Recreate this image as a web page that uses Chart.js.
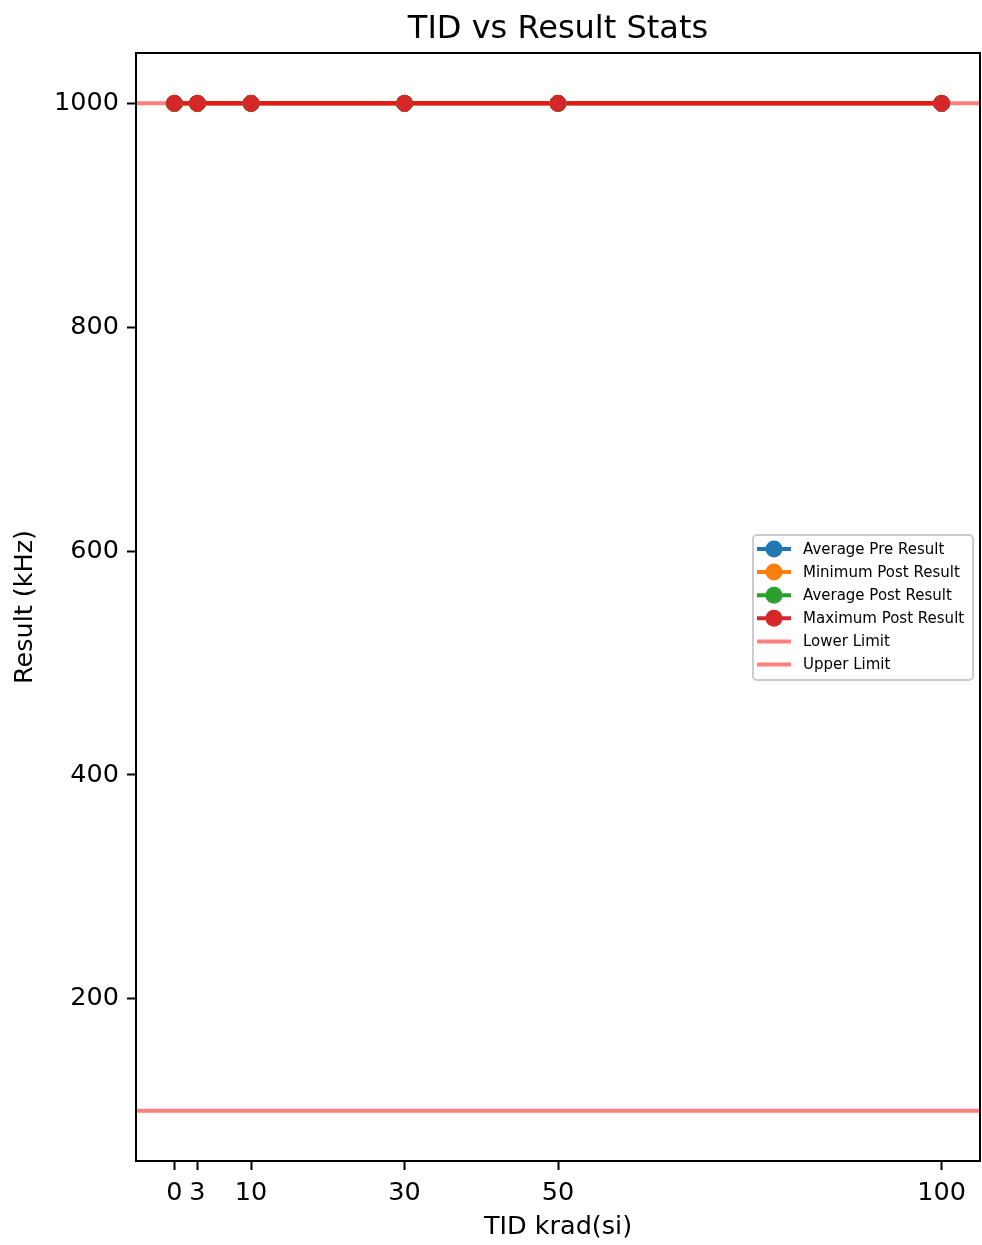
<!DOCTYPE html>
<html>
<head>
<meta charset="utf-8">
<script src="https://cdn.jsdelivr.net/npm/chart.js@4/dist/chart.umd.min.js"></script>
<style>
  html, body { margin: 0; padding: 0; background: #fff; }
  #wrap { width: 982px; height: 1245px; }
</style>
</head>
<body>
<div id="wrap"><canvas id="tidChart" width="982" height="1245"></canvas></div>
<script>
// data
var tid = [0, 3, 10, 30, 50, 100];
var avgPre = [1000, 1000, 1000, 1000, 1000, 1000];
var minPost = [1000, 1000, 1000, 1000, 1000, 1000];
var avgPost = [1000, 1000, 1000, 1000, 1000, 1000];
var maxPost = [1000, 1000, 1000, 1000, 1000, 1000];
var lowerLimit = 100;
var upperLimit = 1000;
var xTicks = [0, 3, 10, 30, 50, 100];
var yTicks = [200, 400, 600, 800, 1000];
var xRange = [-5, 105];
var yRange = [55, 1045];

var FONT = "'DejaVu Sans', sans-serif";

function pts(vals) {
    return vals.map(function (v, i) { return { x: tid[i], y: v }; });
}

function seriesSet(label, vals, color, order) {
    return {
        label: label,
        data: pts(vals),
        showLine: true,
        borderColor: color,
        backgroundColor: color,
        borderWidth: 4,
        pointRadius: 8,
        pointBorderWidth: 1,
        pointBorderColor: color,
        pointBackgroundColor: color,
        order: order,
        isSeries: true
    };
}

function limitSet(label, val) {
    return {
        label: label,
        data: [{ x: xRange[0], y: val }, { x: xRange[1], y: val }],
        showLine: true,
        borderColor: 'rgba(255, 0, 0, 0.5)',
        backgroundColor: 'rgba(255, 0, 0, 0.5)',
        borderWidth: 4,
        pointRadius: 0,
        order: 0
    };
}

// title over the axes, frame, markers on top, matplotlib style legend
var extras = {
    id: 'extras',
    afterDatasetsDraw: function (chart) {
        var ctx = chart.ctx;
        var area = chart.chartArea;
        // markers sit above the limit lines
        chart.data.datasets.forEach(function (ds, i) {
            if (!ds.isSeries) return;
            chart.getDatasetMeta(i).data.forEach(function (p) { p.draw(ctx, area); });
        });
        ctx.save();
        ctx.strokeStyle = '#000';
        ctx.lineWidth = 2;
        ctx.strokeRect(area.left, area.top, area.right - area.left, area.bottom - area.top);
        ctx.restore();
    },
    afterDraw: function (chart) {
        var ctx = chart.ctx;
        var area = chart.chartArea;
        ctx.save();
        ctx.fillStyle = '#000';
        ctx.font = '32px ' + FONT;
        ctx.textAlign = 'center';
        ctx.textBaseline = 'middle';
        ctx.fillText('TID vs Result Stats', (area.left + area.right) / 2, 30);

        var x0 = 753, y0 = 535, w = 220, h = 145;
        ctx.fillStyle = 'rgba(255,255,255,0.8)';
        ctx.strokeStyle = '#cccccc';
        ctx.lineWidth = 2;
        ctx.beginPath();
        ctx.roundRect(x0, y0, w, h, 4);
        ctx.fill();
        ctx.stroke();
        ctx.font = '15px ' + FONT;
        ctx.textAlign = 'left';
        ctx.textBaseline = 'middle';
        chart.data.datasets.forEach(function (ds, i) {
            var y = 549 + i * 23.1;
            ctx.strokeStyle = ds.borderColor;
            ctx.lineWidth = 4;
            ctx.beginPath();
            ctx.moveTo(757, y);
            ctx.lineTo(791, y);
            ctx.stroke();
            if (ds.isSeries) {
                ctx.fillStyle = ds.pointBackgroundColor;
                ctx.beginPath();
                ctx.arc(774, y, 8.5, 0, Math.PI * 2);
                ctx.fill();
            }
            ctx.fillStyle = '#000';
            ctx.fillText(ds.label, 803, y + 1);
        });
        ctx.restore();
    }
};

new Chart(document.getElementById('tidChart'), {
    type: 'scatter',
    data: {
        datasets: [
            seriesSet('Average Pre Result', avgPre, '#1f77b4', 4),
            seriesSet('Minimum Post Result', minPost, '#ff7f0e', 3),
            seriesSet('Average Post Result', avgPost, '#2ca02c', 2),
            seriesSet('Maximum Post Result', maxPost, '#d62728', 1),
            limitSet('Lower Limit', lowerLimit),
            limitSet('Upper Limit', upperLimit)
        ]
    },
    options: {
        responsive: false,
        animation: false,
        layout: { autoPadding: false, padding: { left: 0, right: 2, top: 53, bottom: 0 } },
        plugins: {
            legend: { display: false },
            tooltip: { enabled: false },
            title: { display: false }
        },
        scales: {
            x: {
                type: 'linear',
                min: xRange[0],
                max: xRange[1],
                afterBuildTicks: function (s) { s.ticks = xTicks.map(function (v) { return { value: v }; }); },
                afterFit: function (s) { s.height = 84; s.paddingLeft = 0; s.paddingRight = 0; },
                grid: { drawOnChartArea: false, tickLength: 9, tickWidth: 2, tickColor: '#000' },
                border: { display: true, color: '#000', width: 2 },
                ticks: {
                    color: '#000',
                    padding: 8,
                    maxRotation: 0,
                    autoSkip: false,
                    callback: function (v) { return String(v); },
                    font: { family: FONT, size: 25.5 }
                },
                title: {
                    display: true,
                    text: 'TID krad(si)',
                    color: '#000',
                    font: { family: FONT, size: 25.5, lineHeight: 1.2 },
                    padding: { top: 0, bottom: 2 }
                }
            },
            y: {
                type: 'linear',
                min: yRange[0],
                max: yRange[1],
                afterBuildTicks: function (s) { s.ticks = yTicks.map(function (v) { return { value: v }; }); },
                afterFit: function (s) { s.width = 136; s.paddingTop = 0; s.paddingBottom = 0; },
                grid: { drawOnChartArea: false, tickLength: 9, tickWidth: 2, tickColor: '#000' },
                border: { display: true, color: '#000', width: 2 },
                ticks: {
                    color: '#000',
                    padding: 8,
                    autoSkip: false,
                    callback: function (v) { return String(v); },
                    font: { family: FONT, size: 25.5 }
                },
                title: {
                    display: true,
                    text: 'Result (kHz)',
                    color: '#000',
                    font: { family: FONT, size: 25.5, lineHeight: 1.2 },
                    padding: { top: 10, bottom: 0 }
                }
            }
        }
    },
    plugins: [extras]
});
</script>
</body>
</html>
